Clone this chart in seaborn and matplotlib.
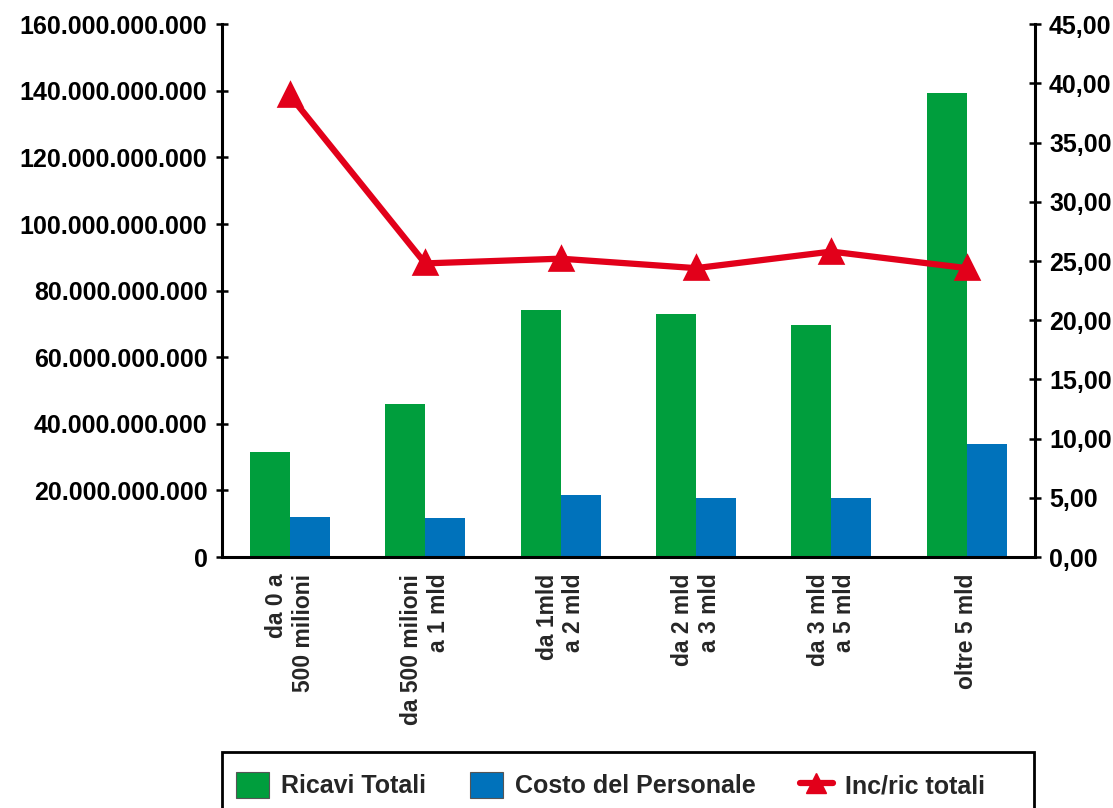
import matplotlib
matplotlib.use("Agg")
import matplotlib.pyplot as plt
from matplotlib import font_manager
from matplotlib.lines import Line2D
from matplotlib.patches import Patch, Rectangle
import seaborn as sns
import pandas as pd

categories = ["da 0 a\n500 milioni", "da 500 milioni\na 1 mld", "da 1mld\na 2 mld",
              "da 2 mld\na 3 mld", "da 3 mld\na 5 mld", "oltre 5 mld"]
ricavi = [31.6e9, 46.0e9, 74.2e9, 73.0e9, 69.7e9, 139.5e9]
costo = [12.1e9, 11.8e9, 18.7e9, 17.8e9, 17.8e9, 34.0e9]
incidenza = [39.0, 24.8, 25.2, 24.4, 25.8, 24.4]
series_names = ["Ricavi Totali", "Costo del Personale", "Inc/ric totali"]
left_ticks = [0, 20e9, 40e9, 60e9, 80e9, 100e9, 120e9, 140e9, 160e9]
right_ticks = [0, 5, 10, 15, 20, 25, 30, 35, 40, 45]

GREEN = "#009E3D"
BLUE = "#0072BB"
RED = "#E2001A"

sns.set_theme(style="white")
avail = {f.name for f in font_manager.fontManager.ttflist}
main_font = "Liberation Sans" if "Liberation Sans" in avail else "DejaVu Sans"
narrow_font = "Liberation Sans Narrow" if "Liberation Sans Narrow" in avail else main_font
plt.rcParams["font.family"] = [main_font, "DejaVu Sans"]
plt.rcParams["font.weight"] = "bold"

df = pd.DataFrame({
    "cat": categories * 2,
    "val": ricavi + costo,
    "serie": [series_names[0]] * 6 + [series_names[1]] * 6,
})

fig = plt.figure(figsize=(11.13, 8.08), dpi=100)
ax = fig.add_axes([0.1995, 0.3106, 0.7300, 0.6594])
sns.barplot(data=df, x="cat", y="val", hue="serie", order=categories,
            hue_order=series_names[:2], palette=[GREEN, BLUE], width=0.59,
            saturation=1, ax=ax, legend=False, linewidth=0)

ax2 = ax.twinx()
sns.pointplot(x=categories, y=incidenza, order=categories, ax=ax2, color=RED,
              marker="^", markersize=15, linewidth=4.5)

for a in (ax, ax2):
    a.set_xlim(-0.5, 5.5)
    a.set_xlabel("")
    a.set_ylabel("")
ax.set_ylim(0, 160e9)
ax2.set_ylim(0, 45)

ax.set_yticks(left_ticks)
ax.set_yticklabels([f"{int(v):,}".replace(",", ".") for v in left_ticks],
                   fontsize=18, fontweight="bold")
ax2.set_yticks(right_ticks)
ax2.set_yticklabels([f"{v:.2f}".replace(".", ",") for v in right_ticks],
                    fontsize=18, fontweight="bold")

ax.set_xticks(range(len(categories)))
ax.set_xticklabels(categories, rotation=90, fontsize=16.5, fontweight="bold",
                   ha="center", va="top", multialignment="right")
ax.tick_params(axis="x", which="major", length=0, pad=12)
ax.set_xticks([i - 0.5 for i in range(len(categories) + 1)], minor=True)
ax.tick_params(axis="x", which="minor", direction="inout", length=10, width=2, color="black")
ax2.tick_params(axis="x", which="both", length=0, labelbottom=False)

ax.tick_params(axis="y", direction="inout", length=9, width=1.8, color="black",
               left=True, pad=6, labelcolor="black")
ax2.tick_params(axis="y", direction="inout", length=9, width=1.8, color="black",
                right=True, pad=6, labelcolor="black")

for a in (ax, ax2):
    a.spines["top"].set_visible(False)
    for s in ["left", "right", "bottom"]:
        a.spines[s].set_color("black")
        a.spines[s].set_linewidth(2.2)
ax.spines["right"].set_visible(False)
ax2.spines["left"].set_visible(False)
ax2.spines["bottom"].set_visible(False)
ax.grid(False)
ax2.grid(False)

# legend frame (extends past the bottom edge, as in the reference)
fig.patches.append(Rectangle((222 / 1113, -0.02), (1034 - 222) / 1113, 0.02 + 56 / 808,
                             transform=fig.transFigure, facecolor="none",
                             edgecolor="black", linewidth=2, zorder=5))

handles = [
    Patch(facecolor=GREEN, edgecolor="#555555", linewidth=0.8),
    Patch(facecolor=BLUE, edgecolor="#555555", linewidth=0.8),
    Line2D([], [], color=RED, linewidth=4.5, marker="^", markersize=15),
]
leg = fig.legend(handles, series_names, loc="center left",
                 bbox_to_anchor=(236 / 1113, 1 - 785 / 808, (985 - 236) / 1113, 0.0),
                 mode="expand", ncol=3, frameon=False,
                 borderpad=0.0, handlelength=1.3, handleheight=1.2,
                 handletextpad=0.5, borderaxespad=0,
                 prop={"family": [narrow_font, "DejaVu Sans"], "weight": "bold", "size": 18})

fig.savefig("out.png", dpi=100)
